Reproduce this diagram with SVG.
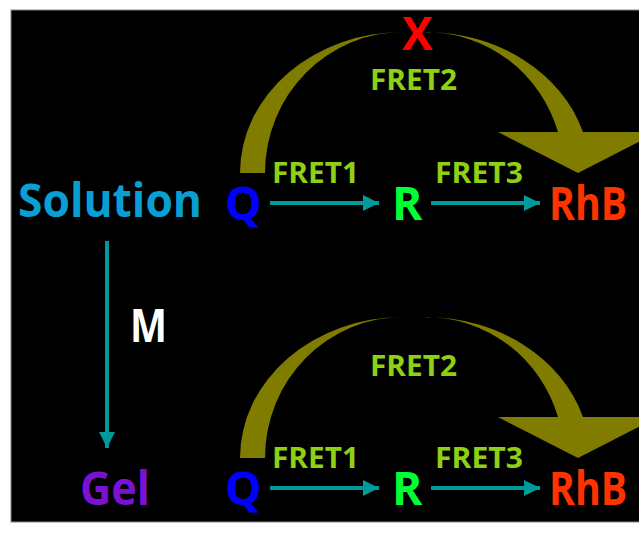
<svg xmlns="http://www.w3.org/2000/svg" width="639" height="536" viewBox="0 0 639 536">
<style>
.big{font-family:"Open Sans","DejaVu Sans",sans-serif;font-weight:700;font-size:46px}
.fret{font-family:"Open Sans","DejaVu Sans",sans-serif;font-weight:700;font-size:28px;fill:#8fd014}
.conn{stroke:#009a9a;stroke-width:4;fill:none}
.arc{fill:#807c00}
</style>
<defs>
<marker id="ah" markerUnits="userSpaceOnUse" markerWidth="16" markerHeight="16" refX="16" refY="8" orient="auto">
<path d="M0,0 L16,8 L0,16 Z" fill="#009a9a"/>
</marker>
<clipPath id="frame"><rect x="11" y="10" width="628" height="512"/></clipPath>
<g id="curve">
<path class="arc" d="M240,173 A163,141 0 0 1 404,32 A138,141 0 0 0 265,173 Z"/>
<path class="arc" d="M425,32 A165,141 0 0 1 583,132 L658,132 L578,173 L498,132 L558,132 A138,141 0 0 0 425,32 Z"/>
</g>
</defs>
<rect x="0" y="0" width="639" height="536" fill="#ffffff"/>
<rect x="11" y="10" width="632" height="512" fill="#000000" stroke="#888888" stroke-width="1"/>

<g id="connectors">
<g clip-path="url(#frame)">
<use href="#curve"/>
<use href="#curve" transform="translate(0,285)"/>
</g>
<line class="conn" x1="270" y1="203" x2="379" y2="203" marker-end="url(#ah)"/>
<line class="conn" x1="431" y1="203" x2="540" y2="203" marker-end="url(#ah)"/>
<line class="conn" x1="270" y1="488" x2="379" y2="488" marker-end="url(#ah)"/>
<line class="conn" x1="431" y1="488" x2="540" y2="488" marker-end="url(#ah)"/>
<line class="conn" x1="107" y1="241" x2="107" y2="448" marker-end="url(#ah)"/>
<text class="fret" x="272" y="183" textLength="87" lengthAdjust="spacingAndGlyphs">FRET1</text>
<text class="fret" x="435" y="183" textLength="88" lengthAdjust="spacingAndGlyphs">FRET3</text>
<text class="fret" x="370" y="90" textLength="87" lengthAdjust="spacingAndGlyphs">FRET2</text>
<text class="big" x="402" y="50" fill="#ff0000">X</text>
<text class="fret" x="272" y="468" textLength="87" lengthAdjust="spacingAndGlyphs">FRET1</text>
<text class="fret" x="435" y="468" textLength="88" lengthAdjust="spacingAndGlyphs">FRET3</text>
<text class="fret" x="370" y="376" textLength="87" lengthAdjust="spacingAndGlyphs">FRET2</text>
<text class="big" x="130" y="342" fill="#ffffff" textLength="37" lengthAdjust="spacingAndGlyphs">M</text>
</g>

<g id="solution"><text class="big" x="18" y="217" font-size="48" fill="#0a9fd2" textLength="184" lengthAdjust="spacingAndGlyphs">Solution</text></g>
<g id="q-top"><text class="big" x="225" y="220" font-size="48" fill="#0000ff">Q</text></g>
<g id="r-top"><text class="big" x="392" y="220" fill="#00ff33">R</text></g>
<g id="rhb-top"><text class="big" x="549" y="220" fill="#ff3300" textLength="78" lengthAdjust="spacingAndGlyphs">RhB</text></g>

<g id="gel"><text class="big" x="80" y="505" font-size="48" fill="#7a12d4" textLength="70" lengthAdjust="spacingAndGlyphs">Gel</text></g>
<g id="q-bottom"><text class="big" x="225" y="505" font-size="48" fill="#0000ff">Q</text></g>
<g id="r-bottom"><text class="big" x="392" y="505" fill="#00ff33">R</text></g>
<g id="rhb-bottom"><text class="big" x="549" y="505" fill="#ff3300" textLength="78" lengthAdjust="spacingAndGlyphs">RhB</text></g>
</svg>
